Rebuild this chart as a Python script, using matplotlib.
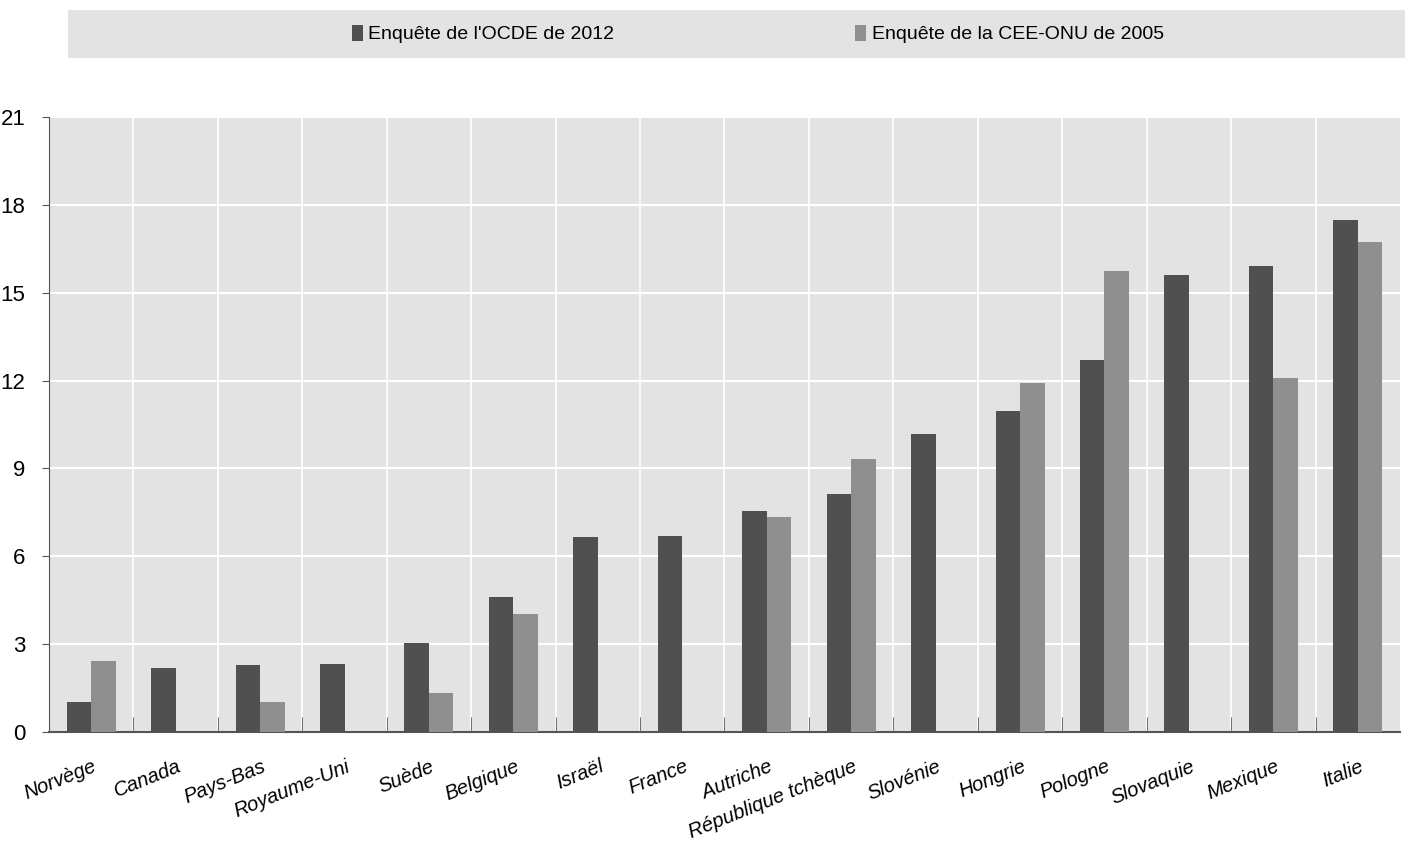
import numpy as np
import matplotlib
matplotlib.use("Agg")
import matplotlib.pyplot as plt
from matplotlib.patches import Rectangle

countries = ["Norvège", "Canada", "Pays-Bas", "Royaume-Uni", "Suède", "Belgique", "Israël", "France",
             "Autriche", "République tchèque", "Slovénie", "Hongrie", "Pologne", "Slovaquie", "Mexique", "Italie"]
oecd_2012 = [1.02, 2.18, 2.29, 2.32, 3.04, 4.6, 6.66, 6.69, 7.55, 8.13, 10.17, 10.96, 12.69, 15.6, 15.9, 17.48]
unece_2005 = [2.42, np.nan, 1.02, np.nan, 1.33, 4.03, np.nan, np.nan, 7.34, 9.32, np.nan, 11.93, 15.73, np.nan, 12.1, 16.72]
labels = ["Enquête de l'OCDE de 2012", "Enquête de la CEE-ONU de 2005"]
yticks = [0, 3, 6, 9, 12, 15, 18, 21]

plt.rcParams["font.family"] = ["Liberation Sans", "DejaVu Sans"]
DARK, LIGHT, BG = "#505050", "#8f8f8f", "#e3e3e3"

fig = plt.figure(figsize=(14.05, 8.48), dpi=100)
ax = fig.add_axes([49 / 1405, 116 / 848, 1351 / 1405, 615 / 848])
ax.set_facecolor(BG)

x = np.arange(len(countries))
w = 0.29
ax.bar(x - w / 2, oecd_2012, w, color=DARK, label=labels[0], zorder=3)
ax.bar(x + w / 2, unece_2005, w, color=LIGHT, label=labels[1], zorder=3)

ax.set_xlim(-0.5, len(countries) - 0.5)
ax.set_ylim(0, 21)
ax.set_yticks(yticks)
ax.set_yticklabels([str(v) for v in yticks], fontsize=16)
# labels hang to the right of the group centre, as in the original
ax.set_xticks(x + 0.1)
ax.set_xticklabels(countries, rotation=22, ha="right", fontsize=14.5, style="italic")
ax.tick_params(axis="x", which="major", length=0, pad=18)
ax.set_xticks(x[:-1] + 0.5, minor=True)
ax.tick_params(axis="x", which="minor", direction="in", length=11, color="#555555")
ax.tick_params(axis="y", length=5, color="#555555", pad=12)
ax.grid(True, axis="y", color="white", lw=1.5, zorder=1)
ax.grid(True, axis="x", which="minor", color="white", lw=1.2, zorder=1)
for s in ["top", "right"]:
    ax.spines[s].set_visible(False)
for s in ["left", "bottom"]:
    ax.spines[s].set_color("#555555")
ax.spines["bottom"].set_linewidth(1.5)

fig.patches.append(Rectangle((68 / 1405, 1 - 58 / 848), 1 - 68 / 1405, 48 / 848,
                             transform=fig.transFigure, facecolor=BG, edgecolor="none", zorder=0))
h, l = ax.get_legend_handles_labels()
fig.legend(h, l, loc="center", bbox_to_anchor=(758 / 1405, 1 - 34 / 848), ncol=2, frameon=False,
           fontsize=14, handlelength=0.55, handleheight=0.9, handletextpad=0.3, columnspacing=12.4)

fig.savefig("out.png", dpi=100)
